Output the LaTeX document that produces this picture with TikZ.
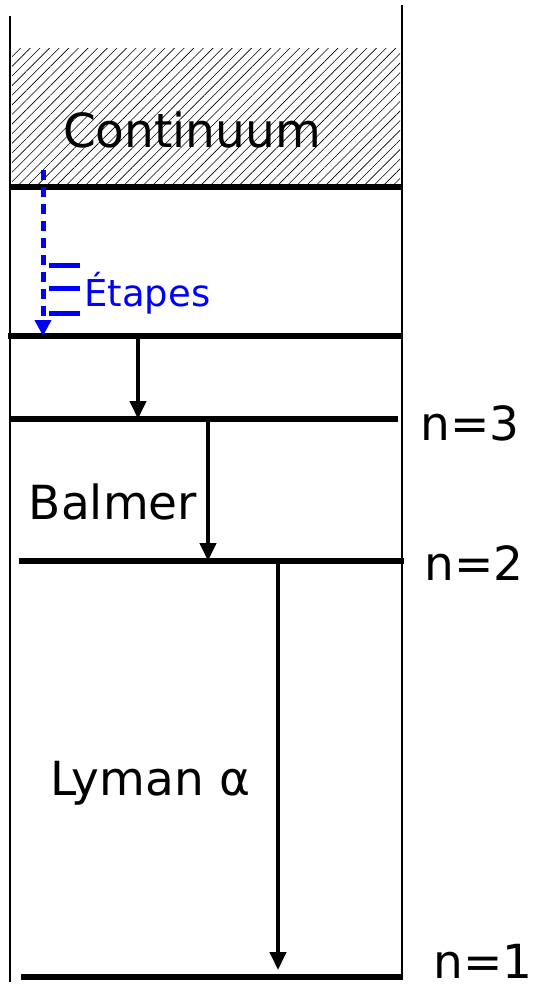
\documentclass[tikz,border=0pt]{standalone}
\usepackage{fontspec}
\setmainfont{DejaVu Sans}
\usepackage{tikz}
\usetikzlibrary{arrows.meta,patterns.meta,positioning,calc}
\tikzstyle{wall}=[line width=1pt,black]
\tikzstyle{level}=[line width=3.2pt,black]
\tikzstyle{transition}=[-{Triangle[length=9pt,width=8pt]},line width=2pt,black]
\tikzstyle{cascade}=[-{Triangle[length=8pt,width=8pt]},line width=2.5pt,blue,dash pattern=on 5pt off 3.5pt]
\tikzstyle{stepmark}=[line width=2.5pt,blue]
\tikzstyle{big text}=[font=\fontsize{23.5}{28}\selectfont,inner sep=0pt,anchor=base]
\tikzstyle{level name}=[big text,anchor=base west]

\begin{document}
\begin{tikzpicture}[x=0.5pt,y=-0.5pt]
\useasboundingbox (0,0) rectangle (539,992);

	% Continuum
    \fill[pattern={Lines[angle=45,distance=3.4pt,line width=0.3pt]}] (12,48) rectangle (400,185);
    \node[big text] (continuum) at (192,147) {Continuum};

	% walls
    \coordinate (W-lt) at (10,16);
    \coordinate (W-lb) at (10,982);
    \coordinate (W-rt) at (402,5);
    \coordinate (W-rb) at (402,980);
    \draw[wall] (W-lt) -- (W-lb);
    \draw[wall] (W-rt) -- (W-rb);

	% levels
    \coordinate (L0-l) at (10,187);  \coordinate (L0-r) at (403,187);
    \coordinate (L1-l) at (8,336);   \coordinate (L1-r) at (402,336);
    \coordinate (L3-l) at (10,419);  \coordinate (L3-r) at (398,419);
    \coordinate (L2-l) at (19,561);  \coordinate (L2-r) at (404,561);
    \coordinate (Lg-l) at (21,977);  \coordinate (Lg-r) at (401,977);
    \foreach \name in {L0,L1,L3,L2,Lg}
        \draw[level] (\name-l) -- (\name-r);

    \node[level name] (n3) at (420,440) {n=3};
    \node[level name] (n2) at (424,580) {n=2};
    \node[level name] (n1) at (433,978) {n=1};

	% steps
    \coordinate (S-top) at (43,170);
    \draw[cascade] (S-top) -- (S-top |- L1-l);
    \foreach \y in {265,288,313}
        \draw[stepmark] (49,\y) -- (80,\y);
    \node[big text,anchor=base west,font=\fontsize{18.5}{22}\selectfont,text=blue] (etapes) at (84,306) {Étapes};

	% transitions
    \coordinate (T1) at (138,0);
    \coordinate (T2) at (208,0);
    \coordinate (T3) at (278,0);
    \draw[transition] (T1 |- L1-l) -- (T1 |- L3-l);
    \draw[transition] (T2 |- L3-l) -- (T2 |- L2-l);
    \draw[transition] (T3 |- L2-l) -- ($(T3 |- Lg-l)+(0,-7)$);

    \node[big text] (balmer) at (113,519) {Balmer};
    \node[big text] (lyman) at (150,795) {Lyman α};

\end{tikzpicture}
\end{document}
